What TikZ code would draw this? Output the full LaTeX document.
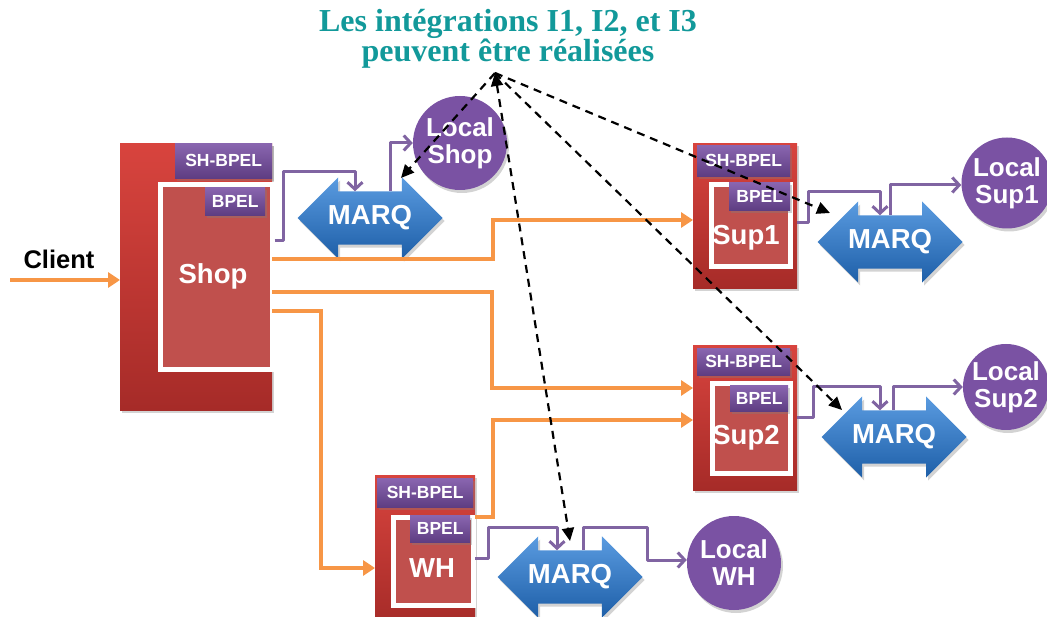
\documentclass[tikz,border=0pt]{standalone}
\usepackage{fontspec}
\setmainfont{Liberation Serif}
\setsansfont{Liberation Sans}
\usetikzlibrary{shapes.arrows,shadows,arrows.meta,calc}
\definecolor{redtop}{HTML}{D8443E}
\definecolor{redbot}{HTML}{A62B28}
\definecolor{redin}{HTML}{C0504D}
\definecolor{purtop}{HTML}{8A66B0}
\definecolor{purbot}{HTML}{5E3D82}
\definecolor{ball}{HTML}{7A52A3}
\definecolor{bluetop}{HTML}{5A9BE0}
\definecolor{bluebot}{HTML}{1E5FA8}
\definecolor{orng}{HTML}{F79646}
\definecolor{purp}{HTML}{8064A2}
\definecolor{teal}{HTML}{12999A}
\begin{document}
\begin{tikzpicture}[x=1pt,y=-1pt,
  shd/.style={drop shadow={shadow xshift=2pt,shadow yshift=-3pt,opacity=0.35}},
  redbox/.style={anchor=north west, inner sep=0pt, top color=redtop, bottom color=redbot, shd},
  inbox/.style={anchor=north west, inner sep=0pt, fill=redin, draw=white, line width=5pt},
  tab/.style={anchor=north west, inner sep=0pt, top color=purtop, bottom color=purbot, text=white,
     font=\sffamily\bfseries\fontsize{17.5}{17.5}\selectfont, shd},
  lbl/.style={text=white, font=\sffamily\bfseries\fontsize{27.5}{27.5}\selectfont},
  ballnode/.style={circle, inner sep=0pt, fill=ball, text=white, align=center,
     font=\sffamily\bfseries\fontsize{26}{27}\selectfont, shd},
  marq/.style={double arrow, double arrow head extend=14pt, minimum height=145pt,
     inner xsep=0pt, inner ysep=14pt, top color=bluetop, bottom color=bluebot, text=white,
     font=\sffamily\bfseries\fontsize{27.5}{27.5}\selectfont, shd},
  oline/.style={draw=orng, line width=4pt, -{Triangle[length=12pt,width=15pt]}},
  pline/.style={draw=purp, line width=3pt, line join=round, -{Straight Barb[length=7pt,width=15pt]}},
  darr/.style={draw=black, line width=2.2pt, dash pattern=on 8pt off 6pt, -{Triangle[length=13pt,width=12pt]}}
]
\useasboundingbox (0,0) rectangle (1047,617);

% title
\node[text=teal, align=center, font=\bfseries\fontsize{32}{30}\selectfont] (title) at (508,39)
  {Les intégrations I1, I2, et I3\\peuvent être réalisées};
\coordinate (apex) at (495,73);

% client
\node[font=\sffamily\bfseries\fontsize{25.5}{25.5}\selectfont] (client) at (59,259) {Client};
\coordinate (cstart) at (10,280);

% Shop
\node[redbox, minimum width=152pt, minimum height=267pt] (shop) at (120,143) {};
\node[inbox, minimum width=112pt, minimum height=185pt] (shopin) at (157.5,182.5) {};
\node[tab, minimum width=97pt, minimum height=35pt] (shopsh) at (175,143) {SH-BPEL};
\node[tab, minimum width=60pt, minimum height=28pt] (shopbp) at (205,187) {BPEL};
\node[lbl] (shoplbl) at (213,276) {Shop};

% Sup1
\node[redbox, minimum width=104pt, minimum height=145pt] (sup1) at (693,143) {};
\node[inbox, minimum width=79pt, minimum height=82pt] (sup1in) at (708.5,182.5) {};
\node[tab, minimum width=93pt, minimum height=31pt] (sup1sh) at (697,145) {SH-BPEL};
\node[tab, minimum width=61pt, minimum height=28pt] (sup1bp) at (729,182) {BPEL};
\node[lbl] (sup1lbl) at (746,238) {Sup1};

% Sup2
\node[redbox, minimum width=104pt, minimum height=145pt] (sup2) at (693,345) {};
\node[inbox, minimum width=78pt, minimum height=89pt] (sup2in) at (709.5,381.5) {};
\node[tab, minimum width=93pt, minimum height=27pt] (sup2sh) at (697,348) {SH-BPEL};
\node[tab, minimum width=58pt, minimum height=26pt] (sup2bp) at (730,385) {BPEL};
\node[lbl] (sup2lbl) at (746,438) {Sup2};

% WH
\node[redbox, minimum width=100pt, minimum height=150pt] (wh) at (375,475) {};
\node[inbox, minimum width=80pt, minimum height=88pt] (whin) at (390.5,514.5) {};
\node[tab, minimum width=96pt, minimum height=29pt] (whsh) at (377,478) {SH-BPEL};
\node[tab, minimum width=60pt, minimum height=27pt] (whbp) at (410,515) {BPEL};
\node[lbl] (whlbl) at (432,568) {WH};

% MARQ
\node[marq] (mq1) at (370,218) {MARQ};
\node[marq] (mq2) at (890,242) {MARQ};
\node[marq] (mq3) at (894,437) {MARQ};
\node[marq] (mq4) at (570,577) {MARQ};

% local stores
\node[ballnode, minimum size=94pt] (lshop) at (460,143) {Local\\Shop};
\node[ballnode, minimum size=91pt] (lsup1) at (1007,183) {Local\\Sup1};
\node[ballnode, minimum size=86pt] (lsup2) at (1006,387) {Local\\Sup2};
\node[ballnode, minimum size=94pt] (lwh) at (734,563) {Local\\WH};

% orange connectors
\draw[oline] (cstart) -- (shop.west |- cstart);
\draw[oline] (shop.east |- 0,259) -| (493,220) -- (sup1.west |- 0,220);
\draw[oline] (shop.east |- 0,292) -| (492,388) -- (sup2.west |- 0,388);
\draw[oline] (shop.east |- 0,311) -| (321,568) -- (wh.west |- 0,568);
\draw[oline] (wh.east |- 0,517) -| (493,420) -- (sup2.west |- 0,420);

% purple connectors
\draw[pline] (shopin.east |- 0,241) -- (283,241) |- (355,172) -- (mq1.north -| 355,0);
\draw[pline] (mq1.north -| 390,0) |- (lshop.west);
\draw[pline] (sup1.east |- 0,223) -- (808,223) |- (880,192) -- (mq2.north -| 880,0);
\draw[pline] (mq2.north -| 890,0) |- (lsup1.west |- 0,185);
\draw[pline] (sup2.east |- 0,418) -- (813,418) |- (880,387) -- (mq3.north -| 880,0);
\draw[pline] (mq3.north -| 893,0) |- (lsup2.west |- 0,387);
\draw[pline] (wh.east |- 0,558) -- (488,558) |- (557,527) -- (mq4.north -| 557,0);
\draw[pline] (mq4.north -| 583,0) |- (647,527) |- (lwh.west |- 0,560);

% dashed arrows
\draw[darr] (apex) -- ($(mq1.center)+(31,-40)$);
\draw[darr] (apex) -- ($(mq2.center)+(-60,-29)$);
\draw[darr] (apex) -- ($(mq3.center)+(-52,-27)$);
\draw[darr, {Triangle[length=13pt,width=12pt]}-{Triangle[length=13pt,width=12pt]}] (apex) -- ($(mq4.center)+(0,-36)$);
\end{tikzpicture}
\end{document}
